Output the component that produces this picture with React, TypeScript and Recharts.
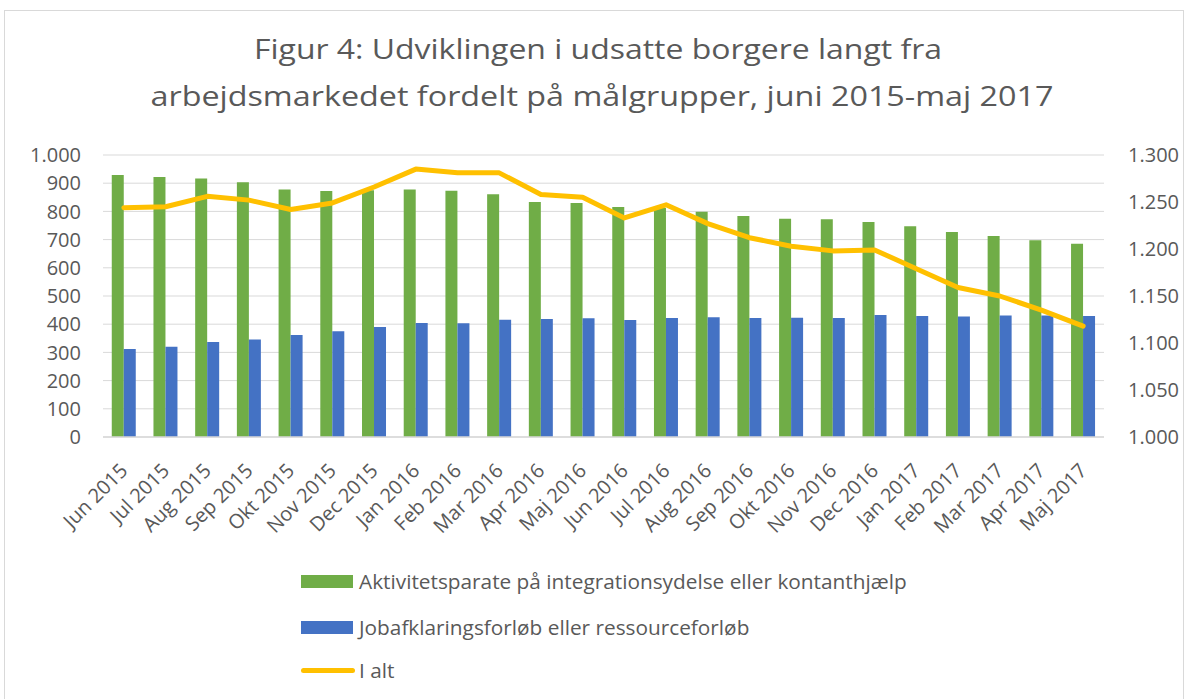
import React from "react";
import {
  ComposedChart,
  Bar,
  Line,
  XAxis,
  YAxis,
  CartesianGrid,
} from "recharts";

const months = [
  "Jun 2015", "Jul 2015", "Aug 2015", "Sep 2015", "Okt 2015", "Nov 2015",
  "Dec 2015", "Jan 2016", "Feb 2016", "Mar 2016", "Apr 2016", "Maj 2016",
  "Jun 2016", "Jul 2016", "Aug 2016", "Sep 2016", "Okt 2016", "Nov 2016",
  "Dec 2016", "Jan 2017", "Feb 2017", "Mar 2017", "Apr 2017", "Maj 2017",
];

const aktivitetsparate = [
  929, 922, 917, 903, 878, 872, 875, 878, 873, 861, 833, 830,
  816, 812, 799, 784, 774, 772, 762, 747, 727, 713, 698, 685,
];

const jobafklaring = [
  312, 320, 337, 346, 362, 375, 390, 404, 403, 416, 418, 421,
  415, 422, 425, 422, 423, 422, 433, 429, 427, 431, 431, 429,
];

const iAlt = [
  1244, 1245, 1256, 1252, 1242, 1249, 1266, 1285, 1281, 1281, 1258, 1255,
  1233, 1247, 1227, 1212, 1203, 1198, 1199, 1179, 1159, 1150, 1135, 1118,
];

const leftTicks = [0, 100, 200, 300, 400, 500, 600, 700, 800, 900, 1000];
const rightTicks = [1000, 1050, 1100, 1150, 1200, 1250, 1300];

const titleLines = [
  "Figur 4: Udviklingen i udsatte borgere langt fra",
  "arbejdsmarkedet fordelt på målgrupper, juni 2015-maj 2017",
];

const seriesNames = {
  aktiv: "Aktivitetsparate på integrationsydelse eller kontanthjælp",
  job: "Jobafklaringsforløb eller ressourceforløb",
  total: "I alt",
};

const GREEN = "#70AD47";
const BLUE = "#4472C4";
const GOLD = "#FFC000";
const TEXT = "#595959";
const GRID = "#d9d9d9";
const FONT = "'Open Sans', sans-serif";

const data = months.map((m, i) => ({
  month: m,
  aktiv: aktivitetsparate[i],
  job: jobafklaring[i],
  total: iAlt[i],
}));

// danish thousands separator: 1000 -> 1.000
const fmt = (v: number) => String(v).replace(/\B(?=(\d{3})+(?!\d))/g, ".");

const MonthTick = ({ x, y, payload }: any) => (
  <g transform={`translate(${x + 5},${y + 35})`}>
    <text textAnchor="end" transform="rotate(-45)" fill={TEXT} fontSize={20} fontFamily={FONT}>
      {payload.value}
    </text>
  </g>
);

const legendItems = [
  { name: seriesNames.aktiv, color: GREEN, kind: "bar" },
  { name: seriesNames.job, color: BLUE, kind: "bar" },
  { name: seriesNames.total, color: GOLD, kind: "line" },
];

export default function App() {
  return (
    <div style={{ position: "absolute", left: 0, top: 0, width: 1188, height: 699, background: "#fff", overflow: "hidden" }}>
      <div style={{ position: "absolute", left: 4, top: 10, width: 1180, height: 700, border: `1px solid ${GRID}`, boxSizing: "border-box" }} />

      <svg width={1188} height={130} style={{ position: "absolute", left: 0, top: 0 }}>
        <text x={598} y={59} textAnchor="middle" fill={TEXT} fontSize={28} fontFamily={FONT} textLength={688} lengthAdjust="spacingAndGlyphs">
          {titleLines[0]}
        </text>
        <text x={602} y={106} textAnchor="middle" fill={TEXT} fontSize={28} fontFamily={FONT} textLength={903} lengthAdjust="spacingAndGlyphs">
          {titleLines[1]}
        </text>
      </svg>

      <div style={{ position: "absolute", left: 0, top: 0 }}>
        <ComposedChart
          width={1188}
          height={699}
          data={data}
          margin={{ top: 155, right: 0, bottom: 0, left: 0 }}
          barCategoryGap="21%"
          barGap={0}
        >
          <CartesianGrid yAxisId="left" vertical={false} stroke={GRID} />
          <XAxis
            dataKey="month"
            height={262}
            interval={0}
            tick={<MonthTick />}
            tickLine={false}
            tickSize={0}
            tickMargin={0}
            axisLine={{ stroke: GRID, strokeWidth: 1.5 }}
          />
          <YAxis
            yAxisId="left"
            width={103}
            domain={[0, 1000]}
            ticks={leftTicks}
            tickFormatter={fmt}
            axisLine={false}
            tickLine={false}
            tickSize={0}
            tickMargin={22}
            tick={{ fill: TEXT, fontSize: 20, fontFamily: FONT }}
          />
          <YAxis
            yAxisId="right"
            orientation="right"
            width={84}
            domain={[1000, 1300]}
            ticks={rightTicks}
            tickFormatter={fmt}
            axisLine={false}
            tickLine={false}
            tickSize={0}
            tickMargin={24}
            tick={{ fill: TEXT, fontSize: 20, fontFamily: FONT, textAnchor: "start" }}
          />
          <Bar yAxisId="left" dataKey="aktiv" name={seriesNames.aktiv} fill={GREEN} isAnimationActive={false} />
          <Bar yAxisId="left" dataKey="job" name={seriesNames.job} fill={BLUE} isAnimationActive={false} />
          <Line
            yAxisId="right"
            type="linear"
            dataKey="total"
            name={seriesNames.total}
            stroke={GOLD}
            strokeWidth={5}
            strokeLinecap="round"
            strokeLinejoin="round"
            dot={false}
            activeDot={false}
            isAnimationActive={false}
          />
        </ComposedChart>
      </div>

      {legendItems.map((item, i) => (
        <div
          key={item.name}
          style={{
            position: "absolute",
            left: 301,
            top: [581, 627, 670][i] - 17,
            height: 34,
            display: "flex",
            alignItems: "center",
            fontFamily: FONT,
            fontSize: 20.8,
            color: TEXT,
            whiteSpace: "nowrap",
          }}
        >
          <span
            style={{
              display: "inline-block",
              width: item.kind === "bar" ? 52 : 54,
              height: item.kind === "bar" ? 13 : 5,
              borderRadius: item.kind === "bar" ? 0 : 3,
              background: item.color,
              marginRight: item.kind === "bar" ? 6 : 4,
            }}
          />
          <span>{item.name}</span>
        </div>
      ))}
    </div>
  );
}
